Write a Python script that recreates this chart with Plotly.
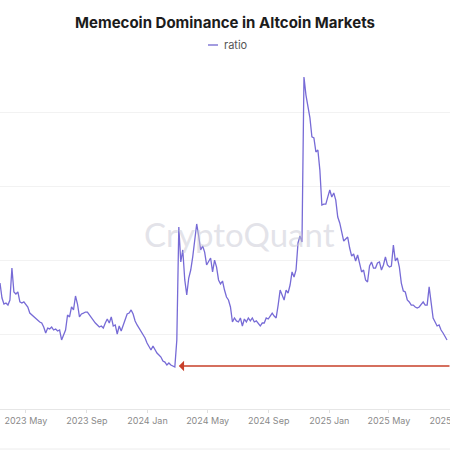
import pandas as pd
import plotly.graph_objects as go

# Series values (one value every 4 days, starting 2023-03-10)
start_date = "2023-03-10"
step_days = 4
ratio = [
    8.48, 7.47, 7.07, 7.14, 7.00, 7.34, 9.49, 7.88, 7.74, 7.88,
    7.21, 7.14, 7.21, 7.07, 6.87, 6.46, 6.33, 6.26, 6.13, 5.99,
    5.86, 5.79, 5.52, 5.12, 5.45, 5.39, 5.52, 5.32, 5.39, 5.25,
    5.32, 4.65, 5.05, 5.32, 6.33, 6.20, 6.87, 6.67, 7.61, 7.07,
    6.20, 6.40, 6.46, 6.53, 6.53, 6.33, 6.13, 5.99, 5.79, 5.66,
    5.52, 5.59, 5.45, 5.79, 6.06, 5.79, 6.20, 5.59, 5.66, 5.05,
    5.59, 5.25, 5.66, 5.99, 6.40, 6.46, 6.67, 6.40, 5.93, 5.66,
    5.45, 5.25, 5.05, 4.78, 4.44, 4.18, 3.97, 4.24, 3.97, 3.77,
    3.64, 3.50, 3.23, 3.16, 2.96, 3.10, 2.96, 2.90, 2.83, 4.65,
    12.26, 9.90, 10.71, 8.69, 7.68, 8.82, 9.36, 10.24, 11.18, 12.46,
    11.65, 10.71, 10.98, 10.57, 9.70, 9.90, 10.17, 9.23, 10.03, 9.56,
    8.69, 8.42, 8.62, 8.01, 7.54, 7.34, 6.87, 5.86, 6.13, 5.93,
    5.86, 6.13, 5.59, 6.06, 5.86, 6.13, 5.93, 6.13, 5.86, 5.93,
    5.72, 5.59, 5.79, 5.79, 6.13, 6.06, 6.26, 6.46, 6.26, 6.13,
    7.00, 8.01, 7.68, 7.34, 8.01, 7.81, 8.35, 9.23, 8.89, 9.36,
    11.18, 11.65, 11.25, 22.36, 21.14, 20.27, 19.60, 18.32, 18.25, 17.31,
    17.44, 16.09, 13.74, 13.80, 13.80, 14.28, 14.75, 14.28, 14.55, 14.07,
    12.93, 12.53, 11.85, 11.31, 11.45, 11.58, 10.84, 10.30, 10.44, 9.97,
    10.37, 9.83, 9.23, 9.36, 8.69, 8.55, 9.63, 9.90, 9.49, 9.49,
    9.83, 9.90, 9.36, 9.70, 10.24, 9.70, 9.56, 9.63, 11.04, 9.97,
    10.17, 9.56, 8.48, 7.95, 7.88, 7.34, 7.21, 7.00, 7.00, 6.87,
    6.80, 6.87, 7.07, 7.21, 7.00, 7.00, 8.22, 7.00, 6.13, 5.86,
    5.59, 5.66, 5.32, 5.12, 4.92, 4.65,
]
dates = pd.date_range(start_date, periods=len(ratio), freq=f"{step_days}D")

# Axis window and arrow annotation (from the chart)
x_range = ["2023-03-10", "2025-09-01"]
y_range = [0, 23.3]
arrow_head = ("2024-03-04", 2.90)
arrow_tail_x = "2025-09-03"

title_text = "Memecoin Dominance in Altcoin Markets"
series_name = "ratio"
watermark = "CryptoQuant"

line_color = "#776bd6"
font_family = "Inter, Roboto, sans-serif"

fig = go.Figure()
fig.add_trace(go.Scatter(
    x=dates, y=ratio, mode="lines", name=series_name,
    line=dict(color=line_color, width=1.3),
    showlegend=False,
))

plot_h = 450 - 63 - 41  # plot area height in px

fig.update_layout(
    width=450, height=450,
    margin=dict(l=0, r=0, t=63, b=41, autoexpand=False),
    paper_bgcolor="white", plot_bgcolor="white",
    title=dict(text=f"<b>{title_text}</b>", x=0.5, xanchor="center",
               y=1 - 23 / 450, yanchor="middle",
               font=dict(family=font_family, size=15, color="#1c1c1c")),
    xaxis=dict(range=x_range, type="date", tick0="2023-01-01", dtick="M4",
               tickformat="%Y %b", showgrid=False, showline=True,
               linecolor="#e6e6e6", linewidth=1,
               ticks="outside", ticklen=3, tickcolor="#e0e0e0",
               ticklabeloverflow="allow", automargin=False,
               tickfont=dict(family=font_family, size=9, color="#8a8a8a")),
    yaxis=dict(range=y_range, dtick=5, showticklabels=False, showgrid=True,
               gridcolor="#f2f2f2", zeroline=False, showline=False,
               automargin=False),
)

# legend (short line + label, as in the original)
legend_y = 1 + 18 / plot_h
fig.add_shape(type="line", xref="paper", yref="paper",
              x0=208 / 450, x1=218 / 450, y0=legend_y, y1=legend_y,
              line=dict(color="#a39ce0", width=2))
fig.add_annotation(text=series_name, xref="paper", yref="paper",
                   x=222 / 450, y=legend_y, xanchor="left", yanchor="middle",
                   showarrow=False,
                   font=dict(family=font_family, size=11, color="#555555"))

fig.add_annotation(
    text=watermark, xref="paper", yref="paper",
    x=239 / 450, y=(409 - 234) / plot_h, xanchor="center", yanchor="middle",
    showarrow=False,
    font=dict(family="Lato, Inter, sans-serif", size=33, color="rgba(200,200,212,0.5)"),
)

fig.add_annotation(
    x=arrow_head[0], y=arrow_head[1], xref="x", yref="y",
    ax=arrow_tail_x, ay=arrow_head[1], axref="x", ayref="y",
    text="", showarrow=True, arrowhead=1, arrowsize=1.1, arrowwidth=1.6,
    arrowcolor="#c8402a",
)

fig.add_shape(type="line", xref="paper", yref="paper",
              x0=0, x1=1, y0=-40 / plot_h, y1=-40 / plot_h,
              line=dict(color="#ececec", width=1))

fig.write_html("out.html")
